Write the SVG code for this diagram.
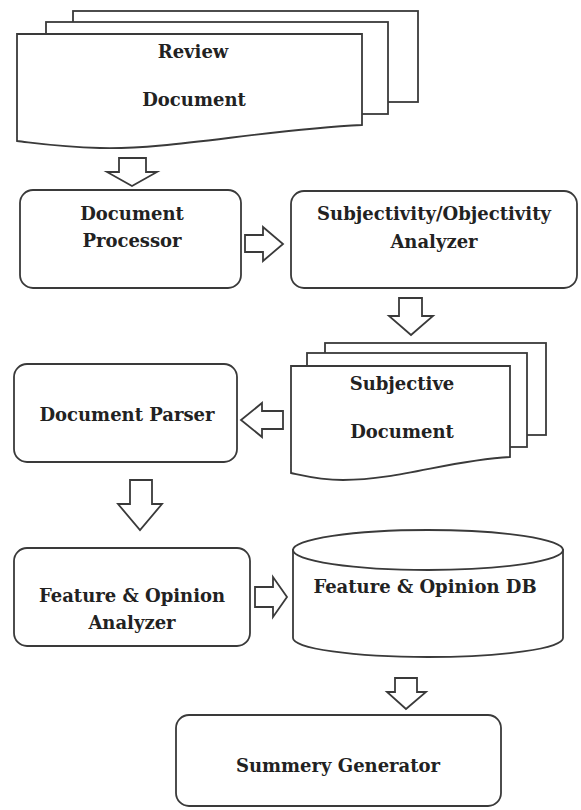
<svg xmlns="http://www.w3.org/2000/svg" width="581" height="810" viewBox="0 0 581 810">
<style>
.s{fill:#fff;stroke:#3a3a3a;stroke-width:1.8;stroke-linejoin:miter}
.t{font-family:"DejaVu Serif","Liberation Serif",serif;font-weight:bold;font-size:18px;fill:#222;text-anchor:middle}
</style>
<rect width="581" height="810" fill="#fff"/>
<g id="review-document">
<rect class="s" x="73" y="11" width="345" height="91"/>
<rect class="s" x="46" y="22" width="342" height="92"/>
<path class="s" d="M17,34 H362 V125 C260,130 170,150 100,148 C60,147 35,143 17,141 Z"/>
<text class="t" x="193" y="58">Review</text>
<text class="t" x="194" y="106">Document</text>
</g>
<g id="document-processor">
<rect class="s" x="20" y="190" width="221" height="98" rx="13"/>
<text class="t" x="132" y="220">Document</text>
<text class="t" x="132" y="247">Processor</text>
</g>
<g id="subjectivity-analyzer">
<rect class="s" x="291" y="191" width="286" height="97" rx="13"/>
<text class="t" x="434" y="220">Subjectivity/Objectivity</text>
<text class="t" x="434" y="248">Analyzer</text>
</g>
<g id="subjective-document">
<rect class="s" x="325" y="343" width="221" height="92"/>
<rect class="s" x="307" y="353" width="220" height="94"/>
<path class="s" d="M291,366 H510 V457 C450,460 400,480 343,480 C320,480 305,476 291,473 Z"/>
<text class="t" x="402" y="390">Subjective</text>
<text class="t" x="402" y="438">Document</text>
</g>
<g id="document-parser">
<rect class="s" x="14" y="364" width="223" height="98" rx="13"/>
<text class="t" x="127" y="421">Document Parser</text>
</g>
<g id="feature-opinion-analyzer">
<rect class="s" x="14" y="548" width="236" height="98" rx="13"/>
<text class="t" x="132" y="602">Feature &amp; Opinion</text>
<text class="t" x="132" y="629">Analyzer</text>
</g>
<g id="feature-opinion-db">
<path class="s" d="M293,549 V638 A135,19 0 0 0 563,638 V549"/>
<ellipse class="s" cx="428" cy="550" rx="135" ry="20"/>
<text class="t" x="425" y="593">Feature &amp; Opinion DB</text>
</g>
<g id="summery-generator">
<rect class="s" x="176" y="715" width="325" height="91" rx="13"/>
<text class="t" x="338" y="772">Summery Generator</text>
</g>
<g id="connectors">
<path class="s" d="M119,158 H146 V172 H157 L132,186 L107,172 H119 Z"/>
<path class="s" d="M245,235 H263 V227 L283,244 L263,261 V252 H245 Z"/>
<path class="s" d="M399,298 H422 V316 H433 L411,335 L389,316 H399 Z"/>
<path class="s" d="M283,411 H262 V403 L241,420 L262,437 V429 H283 Z"/>
<path class="s" d="M130,480 H152 V504 H162 L140,530 L118,504 H130 Z"/>
<path class="s" d="M255,587 H273 V577 L287,597 L273,617 V607 H255 Z"/>
<path class="s" d="M395,678 H417 V692 H426 L406,709 L387,692 H395 Z"/>
</g>
</svg>
